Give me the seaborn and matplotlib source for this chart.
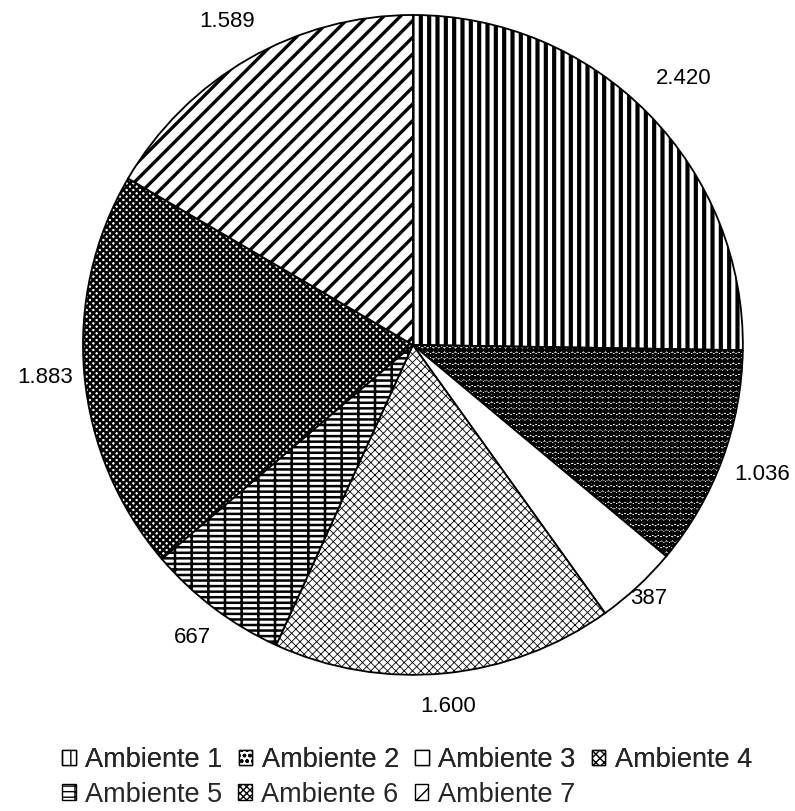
import matplotlib
matplotlib.use("Agg")
import matplotlib.pyplot as plt
from matplotlib.patches import Patch
import numpy as np
import seaborn as sns

# data
categories = ['Ambiente 1', 'Ambiente 2', 'Ambiente 3', 'Ambiente 4',
              'Ambiente 5', 'Ambiente 6', 'Ambiente 7']
values = [2420, 1036, 387, 1600, 667, 1883, 1589]
value_labels = ['2.420', '1.036', '387', '1.600', '667', '1.883', '1.589']

# black and white hatch fills, one per slice
hatches = ['||', 'ooo', '', 'xxxx', '---|', 'xxxxx', '//']
hatch_lw = [3.0, 2.4, 1.0, 0.6, 1.8, 1.8, 2.4]
# how far out each value label sits (in radii), like the excel best fit
label_dist = [1.15, 1.13, 1.05, 1.10, 1.11, 1.12, 1.13]

sns.set_style("white")
plt.rcParams['font.family'] = ['Liberation Sans', 'DejaVu Sans']

fig = plt.figure(figsize=(7.95, 8.11), dpi=100)
ax = fig.add_axes([0.1044, 0.1677, 0.830, 0.814])

wedges, texts = ax.pie(values, labels=value_labels, startangle=90, counterclock=False,
                       labeldistance=1.0,
                       wedgeprops=dict(facecolor='white', edgecolor='black', linewidth=1.3),
                       textprops=dict(fontsize=16, color='black'))
ax.set_xlim(-1, 1)
ax.set_ylim(-1, 1)
ax.set_aspect('equal')
ax.axis('off')

for w, h, lw in zip(wedges, hatches, hatch_lw):
    w.set_hatch(h)
    if hasattr(w, 'set_hatch_linewidth'):
        w.set_hatch_linewidth(lw)

# put labels centred on their slice's mid angle
for w, t, d in zip(wedges, texts, label_dist):
    ang = np.deg2rad((w.theta1 + w.theta2) / 2)
    t.set_position((d * np.cos(ang), d * np.sin(ang)))
    t.set_ha('center')
    t.set_va('center')
    t.set_clip_on(False)

handles = []
for c, h in zip(categories, hatches):
    p = Patch(facecolor='white', edgecolor='black', hatch=h, linewidth=1.0, label=c)
    if hasattr(p, 'set_hatch_linewidth'):
        p.set_hatch_linewidth(0.8)
    handles.append(p)

leg_kw = dict(frameon=False, fontsize=19.5, handlelength=0.5, handleheight=0.5,
              handletextpad=0.35, columnspacing=0.6, loc='center left', borderaxespad=0,
              borderpad=0)
leg1 = fig.legend(handles=handles[:4], ncol=4, bbox_to_anchor=(0.078, 0.063), **leg_kw)
fig.add_artist(leg1)
fig.legend(handles=handles[4:], ncol=3, bbox_to_anchor=(0.078, 0.020), **leg_kw)

fig.savefig('out.png', dpi=100)
